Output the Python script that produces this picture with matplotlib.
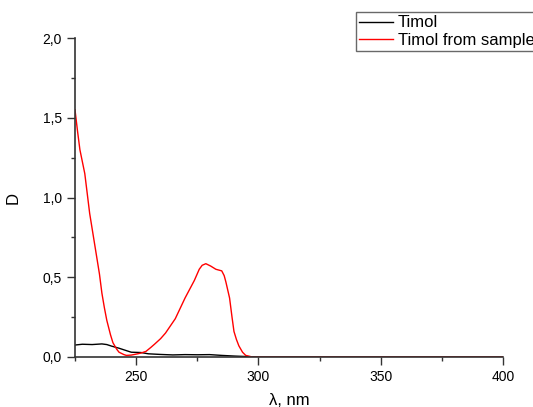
import numpy as np
import matplotlib
matplotlib.use('Agg')
import matplotlib.pyplot as plt
from matplotlib.ticker import FuncFormatter, MultipleLocator

plt.rcParams['font.family'] = ['Liberation Sans', 'DejaVu Sans']

# Timol (reference)
wl_ref = [225, 228, 232, 236, 238, 240, 243, 246, 248, 252, 255, 260, 265, 270, 275, 280, 285, 290, 295, 300, 320, 350, 380, 400]
d_ref = [0.075, 0.08, 0.078, 0.082, 0.078, 0.068, 0.055, 0.04, 0.03, 0.028, 0.02, 0.016, 0.013, 0.015, 0.014, 0.015, 0.01, 0.006, 0.003, 0.0, 0.0, 0.0, 0.0, 0.0]

# Timol from sample
wl_smp = [225, 226, 227, 229, 231, 233, 235, 236, 237, 238, 239.5, 240.5, 242, 243, 245, 246, 248, 250.6, 252, 254, 256, 257.5, 260, 262, 266, 270, 273.8,
          275.8, 277, 278.5, 280.5, 282.6, 285, 286, 286.7, 288.2, 289.2, 290, 291, 292, 293.5, 294.8, 297.5, 300, 350, 400]
d_smp = [1.55, 1.42, 1.30, 1.15, 0.90, 0.71, 0.52, 0.40, 0.31, 0.23, 0.14, 0.09, 0.05, 0.03, 0.015, 0.01, 0.012, 0.02, 0.025, 0.035, 0.06, 0.08, 0.115, 0.15, 0.24, 0.37, 0.48,
         0.55, 0.575, 0.585, 0.57, 0.55, 0.54, 0.51, 0.47, 0.37, 0.25, 0.16, 0.11, 0.07, 0.03, 0.01, 0.0, 0.0, 0.0, 0.0]

fig = plt.figure(figsize=(5.33, 4.07), dpi=100)
ax = fig.add_axes([75/533, 1-357/407, 428/533, 319/407])

ax.plot(wl_ref, d_ref, color='black', lw=1.0, label='Timol')
ax.plot(wl_smp, d_smp, color='red', lw=1.0, label='Timol from sample')

ax.set_xlim(225, 400)
ax.set_ylim(0, 2.0)
ax.xaxis.set_major_locator(MultipleLocator(50))
ax.xaxis.set_minor_locator(MultipleLocator(25))
ax.yaxis.set_major_locator(MultipleLocator(0.5))
ax.yaxis.set_minor_locator(MultipleLocator(0.25))
ax.yaxis.set_major_formatter(FuncFormatter(lambda v, p: f'{v:.1f}'.replace('.', ',')))

for s in ['top', 'right']:
    ax.spines[s].set_visible(False)
for s in ['left', 'bottom']:
    ax.spines[s].set_color('#333333')
    ax.spines[s].set_linewidth(1.2)
ax.tick_params(which='major', direction='out', length=6, width=1, labelsize=10, colors='#333333', labelcolor='black')
ax.tick_params(which='minor', direction='out', length=3, width=1, colors='#333333')

ax.set_xlabel('λ, nm', fontsize=12, labelpad=6)
ax.set_ylabel('D', fontsize=12, labelpad=16)

leg = fig.legend(loc='upper left', bbox_to_anchor=(356/533, 1-12/407), fontsize=12,
                 frameon=True, fancybox=False, handlelength=2.0, handletextpad=0.3,
                 borderpad=0.2, labelspacing=0.15, borderaxespad=0)
leg.get_frame().set_edgecolor('#444444')
leg.get_frame().set_linewidth(1.0)

fig.savefig('out.png', dpi=100)
